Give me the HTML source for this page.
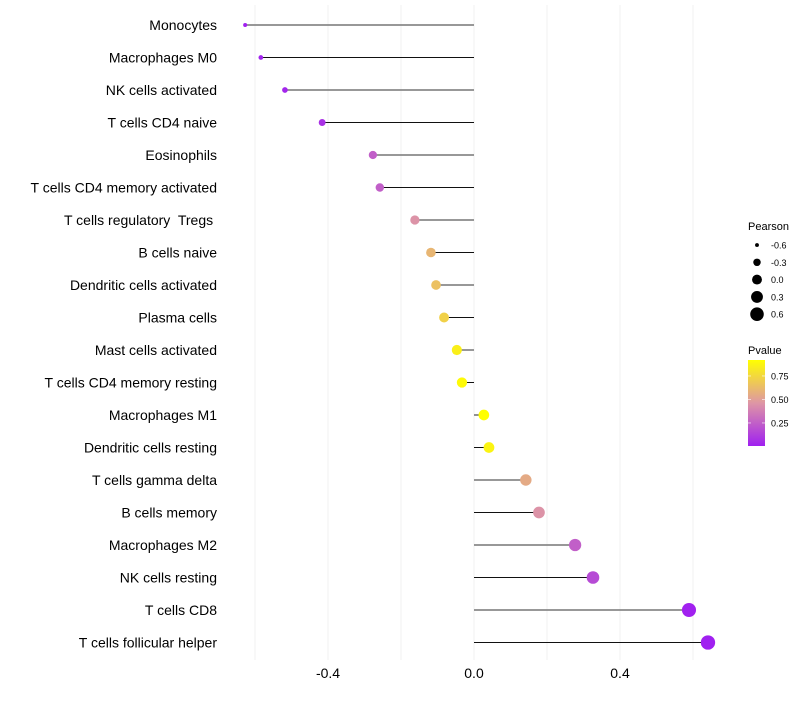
<!DOCTYPE html>
<html><head><meta charset="utf-8"><style>
body{margin:0;background:#fff;font-family:"Liberation Sans",sans-serif}
text{white-space:pre}
</style></head><body>
<svg id="chart" width="800" height="700" xmlns="http://www.w3.org/2000/svg" font-family="Liberation Sans, sans-serif"></svg>
<script>
const categories=["Monocytes","Macrophages M0","NK cells activated","T cells CD4 naive","Eosinophils","T cells CD4 memory activated","T cells regulatory  Tregs ","B cells naive","Dendritic cells activated","Plasma cells","Mast cells activated","T cells CD4 memory resting","Macrophages M1","Dendritic cells resting","T cells gamma delta","B cells memory","Macrophages M2","NK cells resting","T cells CD8","T cells follicular helper"];
const pearson=[-0.627,-0.584,-0.518,-0.416,-0.277,-0.258,-0.162,-0.118,-0.104,-0.082,-0.047,-0.033,0.027,0.041,0.142,0.178,0.277,0.326,0.589,0.641];
const pvalue=[0.01,0.02,0.03,0.07,0.25,0.25,0.45,0.6,0.65,0.72,0.85,0.9,0.92,0.87,0.55,0.45,0.25,0.17,0.01,0.005];
const xTicks=[-0.4,0,0.4];
const xTickLabels=["-0.4","0.0","0.4"];
const minorGrid=[-0.6,-0.2,0.2,0.6];
const sizeLegend=[-0.6,-0.3,0,0.3,0.6];
const colorTicks=[0.25,0.5,0.75];

const svg=document.getElementById('chart');
const NS='http://www.w3.org/2000/svg';
function mk(t,a,p){const e=document.createElementNS(NS,t);for(const k in a)e.setAttribute(k,a[k]);(p||svg).appendChild(e);return e;}
const X=v=>474+v*365;
const Y=i=>25+i*32.5;
const R=v=>Math.sqrt(5+(v+0.6)/1.2*45);
function col(p){
  const t=Math.max(0,Math.min(1,(p-0.005)/0.915));
  const a=[160,32,240],m=[222,150,165],b=[255,255,0];
  let c;
  if(t<0.5){const s=t/0.5;c=a.map((x,i)=>x+(m[i]-x)*s);}else{const s=(t-0.5)/0.5;c=m.map((x,i)=>x+(b[i]-x)*s);}
  return `rgb(${c.map(Math.round).join(',')})`;
}
// grid
[...minorGrid,...xTicks].forEach(g=>{
  const l=mk('line',{x1:X(g),x2:X(g),y1:5,y2:660,stroke:'#f2f2f2','stroke-width':1});
  
  
});
xTicks.forEach((t,i)=>{
  const tx=mk('text',{x:X(t),y:678,'text-anchor':'middle','font-size':14,fill:'#000'});
  tx.textContent=xTickLabels[i];
  
  
});
categories.forEach((c,i)=>{
  const y=Y(i);
  const lab=mk('text',{x:217,y:y+5,'text-anchor':'end','font-size':14,fill:'#000'});
  lab.textContent=c;
  
  
  const seg=mk('line',{x1:X(0),x2:X(pearson[i]),y1:y,y2:y,stroke:i%2?'#111':'#777','stroke-width':i%2?1:1.6});
  
  
  const pt=mk('circle',{cx:X(pearson[i]),cy:y,r:R(pearson[i]),fill:col(pvalue[i])});
  
  
});
// size legend
const lt=mk('text',{x:748,y:230,'font-size':11,fill:'#000'});lt.textContent='Pearson';


sizeLegend.forEach((v,i)=>{
  const y=245+i*17.3;
  const c=mk('circle',{cx:757,cy:y,r:R(v)-0.3,fill:'#000'});
  
  
  const t=mk('text',{x:771,y:y+3.5,'font-size':9,fill:'#000'});t.textContent=v.toFixed(1);
  
  
});
// color legend
const ct=mk('text',{x:748,y:354,'font-size':11,fill:'#000'});ct.textContent='Pvalue';


const defs=mk('defs',{});
const grad=mk('linearGradient',{id:'pg',x1:0,y1:1,x2:0,y2:0},defs);
for(let k=0;k<=10;k++){mk('stop',{offset:k/10,'stop-color':col(0.005+k/10*0.915)},grad);}
const bar=mk('rect',{x:748,y:360,width:17,height:86,fill:'url(#pg)'});


colorTicks.forEach(v=>{
  const y=446-(v-0.005)/0.915*86;
  mk('line',{x1:748,x2:751,y1:y,y2:y,stroke:'#fff','stroke-width':0.6});
  mk('line',{x1:762,x2:765,y1:y,y2:y,stroke:'#fff','stroke-width':0.6});
  const t=mk('text',{x:771,y:y+3.5,'font-size':9,fill:'#000'});t.textContent=v.toFixed(2);
  
  
});
</script>
</body></html>
